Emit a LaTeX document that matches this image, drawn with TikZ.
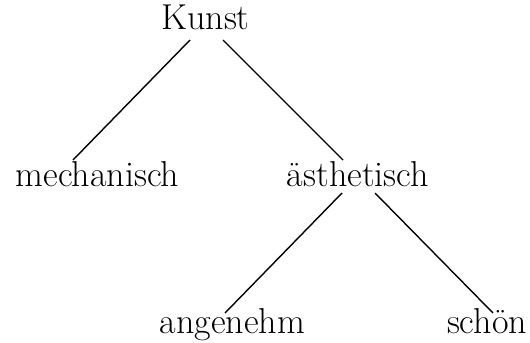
\documentclass[tikz,border=0pt]{standalone}
\usepackage{fontspec}
\usepackage{tikz}
\usetikzlibrary{calc}

\tikzset{word/.style={anchor=base,inner sep=0pt,font=\fontsize{20.5}{24}\selectfont}}

\begin{document}
\begin{tikzpicture}[x=0.02cm,y=-0.02cm,line width=0.8pt]
\useasboundingbox (0,0) rectangle (530,342);
\node[word] (kunst) at (205.5,29) {Kunst};
\node[word] (mech) at (97.5,186) {mechanisch};
\node[word] (aest) at (358,186) {ästhetisch};
\node[word] (ang) at (232.5,333) {angenehm};
\node[word] (schoen) at (487,333) {schön};
\draw ($(kunst.base)+(-15.5,11)$) -- ($(mech.base)+(-24.5,-26)$);
\draw ($(kunst.base)+(17.5,11)$) -- ($(aest.base)+(-15,-26)$);
\draw ($(aest.base)+(-16,7)$) -- ($(ang.base)+(-7.5,-20)$);
\draw ($(aest.base)+(17,7)$) -- ($(schoen.base)+(6,-20)$);
\end{tikzpicture}
\end{document}
